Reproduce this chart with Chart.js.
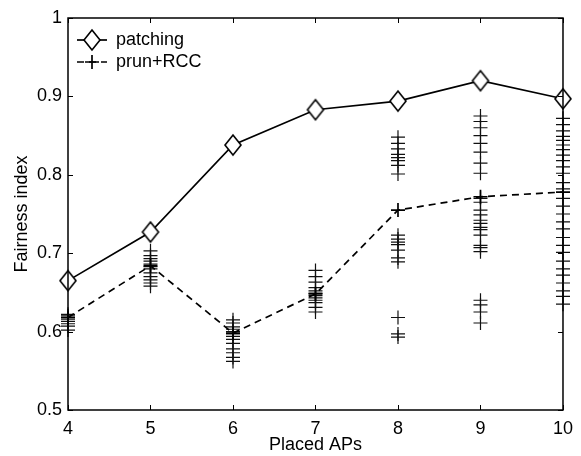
<!DOCTYPE html>
<html>
<head>
<meta charset="utf-8">
<script src="https://cdn.jsdelivr.net/npm/chart.js@4/dist/chart.umd.min.js"></script>
<style>html,body{margin:0;padding:0;background:#fff;}canvas{display:block;}</style>
</head>
<body>
<canvas id="chart" width="581" height="456"></canvas>
<script>
// ---- data ----
const placedAPs = [4, 5, 6, 7, 8, 9, 10];
const patching = [0.665, 0.727, 0.838, 0.883, 0.894, 0.920, 0.897];
const prunRCC  = [0.618, 0.684, 0.598, 0.648, 0.755, 0.772, 0.778];

// individual prun+RCC runs (scattered + marks) per AP count
const runs4  = [0.622, 0.620, 0.618, 0.616, 0.613, 0.610, 0.607, 0.602];
const runs5  = [0.703, 0.697, 0.693, 0.690, 0.686, 0.683, 0.680, 0.675, 0.670, 0.666, 0.662, 0.658];
const runs6  = [0.615, 0.611, 0.606, 0.603, 0.600, 0.597, 0.594, 0.590, 0.585, 0.578, 0.573, 0.567, 0.562];
const runs7  = [0.678, 0.670, 0.663, 0.656, 0.652, 0.649, 0.646, 0.643, 0.640, 0.637, 0.631, 0.625];
const runs8  = [0.848, 0.840, 0.833, 0.826, 0.822, 0.818, 0.812, 0.801, 0.723, 0.718, 0.714, 0.711, 0.704, 0.694, 0.689, 0.618, 0.597, 0.593];
const runs9  = [0.875, 0.868, 0.860, 0.850, 0.840, 0.829, 0.815, 0.802, 0.770, 0.765, 0.755, 0.749, 0.742, 0.738, 0.733, 0.730, 0.723, 0.710, 0.707, 0.702, 0.640, 0.634, 0.625, 0.611];
const runs10 = [0.872, 0.864, 0.856, 0.849, 0.844, 0.838, 0.832, 0.825, 0.818, 0.810, 0.802, 0.790, 0.782, 0.770, 0.760, 0.750, 0.740, 0.731, 0.720, 0.710, 0.701, 0.690, 0.680, 0.672, 0.662, 0.652, 0.645, 0.635];

const xTicks = [4, 5, 6, 7, 8, 9, 10];
const yTicks = [0.5, 0.6, 0.7, 0.8, 0.9, 1];
const legendLabels = ['patching', 'prun+RCC'];

// ---- build datasets ----
const runsByAP = [runs4, runs5, runs6, runs7, runs8, runs9, runs10];
const runPoints = [];
runsByAP.forEach((arr, i) => arr.forEach(v => runPoints.push({x: placedAPs[i], y: v})));
const toXY = arr => arr.map((v, i) => ({x: placedAPs[i], y: v}));

const FONT = '"Liberation Sans", Arial, Helvetica, sans-serif';

// diamond marker (slightly taller than wide, white fill)
function drawDiamond(ctx, cx, cy, hw, hh) {
  ctx.beginPath();
  ctx.moveTo(cx, cy - hh); ctx.lineTo(cx + hw, cy); ctx.lineTo(cx, cy + hh); ctx.lineTo(cx - hw, cy); ctx.closePath();
  ctx.fillStyle = '#fff'; ctx.fill();
  ctx.strokeStyle = '#000'; ctx.lineWidth = 1.6; ctx.stroke();
}
const diamondImg = document.createElement('canvas');
diamondImg.width = 20; diamondImg.height = 24;
drawDiamond(diamondImg.getContext('2d'), 10, 12, 8, 10);

const framePlugin = {
  id: 'frame',
  afterDraw(chart) {
    const {ctx, chartArea: {left, right, top, bottom}, scales: {x, y}} = chart;
    ctx.save();
    ctx.strokeStyle = '#000';
    ctx.lineWidth = 1.5;
    ctx.strokeRect(left, top, right - left, bottom - top);
    ctx.beginPath();
    const tl = 5;
    xTicks.forEach(t => {
      const px = Math.round(x.getPixelForValue(t)) + 0.5;
      ctx.moveTo(px, bottom); ctx.lineTo(px, bottom - tl);
      ctx.moveTo(px, top); ctx.lineTo(px, top + tl);
    });
    yTicks.forEach(t => {
      const py = Math.round(y.getPixelForValue(t)) + 0.5;
      ctx.moveTo(left, py); ctx.lineTo(left + tl, py);
      ctx.moveTo(right, py); ctx.lineTo(right - tl, py);
    });
    ctx.lineWidth = 1;
    ctx.stroke();

    // legend (inside, top-left)
    const lx0 = left + 9, lx1 = left + 39, tx = left + 48;
    const rows = [top + 22, top + 44];
    ctx.font = '18px ' + FONT;
    ctx.textBaseline = 'middle';
    ctx.textAlign = 'left';
    ctx.strokeStyle = '#000';
    ctx.lineWidth = 1.7;
    ctx.setLineDash([]);
    ctx.beginPath(); ctx.moveTo(lx0, rows[0]); ctx.lineTo(lx1, rows[0]); ctx.stroke();
    const cx = (lx0 + lx1) / 2;
    drawDiamond(ctx, cx, rows[0], 8, 10);
    ctx.fillStyle = '#000';
    ctx.fillText(legendLabels[0], tx, rows[0]);
    ctx.lineWidth = 1.7;
    ctx.setLineDash([7, 5]);
    ctx.beginPath(); ctx.moveTo(lx0, rows[1]); ctx.lineTo(lx1, rows[1]); ctx.stroke();
    ctx.setLineDash([]);
    ctx.beginPath();
    ctx.moveTo(cx - 7, rows[1]); ctx.lineTo(cx + 7, rows[1]);
    ctx.moveTo(cx, rows[1] - 7); ctx.lineTo(cx, rows[1] + 7);
    ctx.stroke();
    ctx.fillText(legendLabels[1], tx, rows[1]);
    ctx.restore();
  }
};

new Chart(document.getElementById('chart'), {
  type: 'scatter',
  data: {
    datasets: [
      {
        label: 'runs',
        data: runPoints,
        showLine: false,
        pointStyle: 'cross',
        pointRadius: 7,
        borderColor: '#111',
        borderWidth: 1.2,
        clip: false,
        order: 3
      },
      {
        label: legendLabels[1],
        data: toXY(prunRCC),
        showLine: true,
        borderColor: '#000',
        borderWidth: 1.7,
        borderDash: [7, 5],
        pointStyle: 'cross',
        pointRadius: 7,
        pointBorderWidth: 1.7,
        pointBorderColor: '#000',
        tension: 0,
        clip: false,
        order: 2
      },
      {
        label: legendLabels[0],
        data: toXY(patching),
        showLine: true,
        borderColor: '#000',
        borderWidth: 1.7,
        pointStyle: diamondImg,
        pointRadius: 8,
        tension: 0,
        clip: false,
        order: 1
      }
    ]
  },
  options: {
    responsive: false,
    animation: false,
    devicePixelRatio: 1,
    layout: {padding: {left: 0, right: 13, top: 18, bottom: 0}},
    plugins: {legend: {display: false}, tooltip: {enabled: false}},
    scales: {
      x: {
        type: 'linear',
        min: 4, max: 10,
        grid: {display: false, drawTicks: false},
        border: {display: false},
        afterBuildTicks: s => { s.ticks = xTicks.map(v => ({value: v})); },
        afterFit: s => { s.height = 46; },
        ticks: {color: '#000', font: {family: FONT, size: 18}, padding: 8, maxRotation: 0},
        title: {display: true, text: 'Placed APs', color: '#000', font: {family: FONT, size: 18}, padding: {top: 0, bottom: 0}}
      },
      y: {
        type: 'linear',
        min: 0.5, max: 1,
        grid: {display: false, drawTicks: false},
        border: {display: false},
        afterBuildTicks: s => { s.ticks = yTicks.map(v => ({value: v})); },
        afterFit: s => { s.width = 68; },
        ticks: {
          color: '#000', font: {family: FONT, size: 18}, padding: 6,
          callback: v => (v === 1 ? '1' : v.toFixed(1))
        },
        title: {display: true, text: 'Fairness index', color: '#000', font: {family: FONT, size: 18}, padding: {top: 11, bottom: 0}}
      }
    }
  },
  plugins: [framePlugin]
});
</script>
</body>
</html>
